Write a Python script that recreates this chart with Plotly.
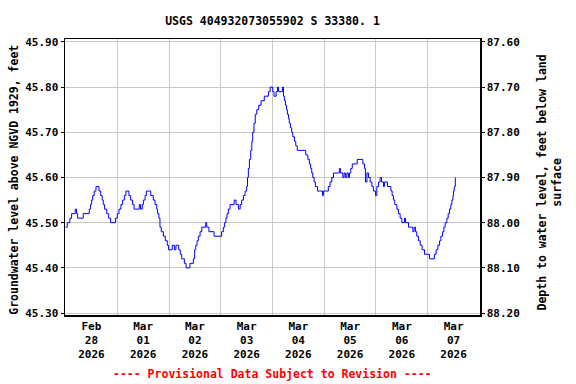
import pandas as pd
import plotly.graph_objects as go

# ---- data (hours after 2026-02-28 00:00, water level ft above NGVD 1929) ----
start = "2026-02-28 00:00"
hours = [0, 0.8, 2.0, 2.8, 4.5, 5.1, 5.6, 8.2, 11.0, 11.6, 12.1, 12.6, 13.3, 14.1, 15.5,
         16.3, 17.0, 17.5, 18.1, 19.1, 20.0, 20.9, 23.2, 24.0, 24.8, 25.7, 26.5, 27.3,
         28.0, 29.4, 30.2, 31.1, 31.8, 34.2, 34.8, 35.6, 36.1, 36.9, 37.5, 39.5, 40.7,
         41.5, 42.3, 42.7, 43.3, 43.8, 44.4, 45.4, 46.3, 47.2, 47.8, 49.5, 50.5, 51.2,
         52.5, 53.2, 53.9, 55.1, 55.9, 57.7, 59.3, 59.9, 60.4, 61.0, 61.6, 62.4, 63.2,
         65.0, 65.5, 66.5, 68.9, 72.4, 73.2, 73.8, 74.4, 74.9, 75.5, 76.3, 78.2, 79.1,
         80.2, 81.0, 81.7, 82.5, 83.3, 84.0, 84.4, 84.8, 85.3, 85.9, 86.4, 86.8, 87.4,
         88.0, 88.7, 89.6, 90.7, 92.2, 94.1, 94.9, 96.1, 96.7, 97.7, 98.3, 98.8, 100.6,
         101.1, 101.5, 102.0, 102.5, 102.9, 103.4, 103.8, 104.3, 104.9, 105.4, 106.2,
         106.8, 107.5, 111.4, 112.4, 113.1, 113.7, 114.2, 114.7, 115.3, 115.9, 116.9,
         119.2, 119.6, 121.9, 122.7, 123.5, 124.3, 127.0, 127.5, 128.6, 129.2, 129.8,
         130.5, 131.2, 131.7, 132.3, 133.0, 135.3, 137.9, 138.7, 139.1, 139.8, 140.5,
         141.3, 142.1, 142.8, 143.8, 144.4, 145.2, 145.9, 146.6, 147.5, 147.9, 149.3,
         150.9, 151.5, 152.1, 152.7, 153.7, 154.4, 155.2, 156.0, 157.2, 157.7, 159.1,
         161.1, 161.7, 162.3, 162.9, 163.7, 164.5, 165.4, 166.5, 168.8, 171.1, 171.9,
         172.7, 173.5, 174.1, 174.9, 175.5, 176.1, 176.9, 177.5, 178.1, 178.7, 179.2,
         179.7, 180.0, 180.3, 180.8]
level = [45.49, 45.50, 45.51, 45.52, 45.53, 45.52, 45.51, 45.52, 45.53, 45.54, 45.55, 45.56,
         45.57, 45.58, 45.57, 45.56, 45.55, 45.54, 45.53, 45.52, 45.51, 45.50, 45.51,
         45.52, 45.53, 45.54, 45.55, 45.56, 45.57, 45.56, 45.55, 45.54, 45.53, 45.54,
         45.53, 45.54, 45.55, 45.56, 45.57, 45.56, 45.55, 45.54, 45.53, 45.52, 45.51,
         45.49, 45.48, 45.47, 45.46, 45.45, 45.44, 45.45, 45.44, 45.45, 45.44, 45.43,
         45.42, 45.41, 45.40, 45.41, 45.42, 45.44, 45.45, 45.46, 45.47, 45.48, 45.49,
         45.50, 45.49, 45.48, 45.47, 45.48, 45.49, 45.50, 45.51, 45.52, 45.53, 45.54,
         45.55, 45.54, 45.53, 45.54, 45.55, 45.56, 45.57, 45.58, 45.60, 45.62, 45.64,
         45.66, 45.68, 45.70, 45.72, 45.74, 45.75, 45.76, 45.77, 45.78, 45.79, 45.80,
         45.79, 45.78, 45.79, 45.80, 45.79, 45.80, 45.78, 45.77, 45.76, 45.75, 45.74,
         45.73, 45.72, 45.71, 45.70, 45.69, 45.68, 45.67, 45.66, 45.65, 45.64, 45.63,
         45.62, 45.61, 45.60, 45.59, 45.58, 45.57, 45.56, 45.57, 45.58, 45.59, 45.60,
         45.61, 45.62, 45.61, 45.60, 45.61, 45.60, 45.61, 45.60, 45.61, 45.62, 45.63,
         45.64, 45.63, 45.62, 45.59, 45.61, 45.60, 45.59, 45.58, 45.57, 45.56, 45.58,
         45.59, 45.60, 45.59, 45.58, 45.59, 45.58, 45.57, 45.56, 45.55, 45.54, 45.53,
         45.52, 45.51, 45.50, 45.51, 45.50, 45.49, 45.48, 45.49, 45.48, 45.47, 45.46,
         45.45, 45.44, 45.43, 45.42, 45.43, 45.44, 45.45, 45.46, 45.47, 45.48, 45.49,
         45.50, 45.51, 45.52, 45.53, 45.54, 45.55, 45.56, 45.57, 45.58, 45.60]
land_surface = 133.50  # depth = land_surface - level

day_labels = ["Feb<br>28<br>2026", "Mar<br>01<br>2026", "Mar<br>02<br>2026", "Mar<br>03<br>2026",
              "Mar<br>04<br>2026", "Mar<br>05<br>2026", "Mar<br>06<br>2026", "Mar<br>07<br>2026"]
left_ticks = [45.30, 45.40, 45.50, 45.60, 45.70, 45.80, 45.90]
right_ticks = [87.60, 87.70, 87.80, 87.90, 88.00, 88.10, 88.20]

t0 = pd.Timestamp(start)
times = [t0 + pd.Timedelta(hours=h) for h in hours]
depth = [round(land_surface - v, 2) for v in level]
label_pos = [t0 + pd.Timedelta(hours=12 + 24 * i) for i in range(len(day_labels))]
midnights = [t0 + pd.Timedelta(days=i) for i in range(1, len(day_labels))]

FONT = "DejaVu Sans Mono"
GRID = "#C8C8C8"

y_lo, y_hi = 45.2956, 45.9066

fig = go.Figure()
fig.add_trace(go.Scatter(x=times, y=level, mode="lines", line=dict(color="#0000FF", width=1, shape="hv"),
                         showlegend=False, hoverinfo="skip"))
fig.add_trace(go.Scatter(x=times, y=depth, mode="lines", yaxis="y2", line=dict(color="rgba(0,0,0,0)", width=0),
                         showlegend=False, hoverinfo="skip"))

fig.update_layout(
    width=576, height=384,
    margin=dict(l=65, r=96, t=39, b=69),
    paper_bgcolor="white", plot_bgcolor="white",
    font=dict(family=FONT, size=11, color="black", weight="bold"),
    title=dict(text="USGS 404932073055902 S 33380. 1", x=0.5, xref="paper", xanchor="center",
               y=1 - 21 / 384, yref="container", yanchor="middle",
               font=dict(family=FONT, size=11.5, color="black", weight="bold")),
    xaxis=dict(range=[t0 - pd.Timedelta(minutes=15), t0 + pd.Timedelta(days=8, minutes=15)],
               tickmode="array", tickvals=label_pos, ticktext=day_labels,
               showgrid=False, ticks="", showline=True, linecolor="black", linewidth=1.5, mirror=True,
               minor=dict(tickmode="array", tickvals=midnights, showgrid=True, gridcolor=GRID, gridwidth=1, ticks=""),
               zeroline=False, tickfont=dict(size=11)),
    yaxis=dict(range=[y_lo, y_hi], tickmode="array", tickvals=left_ticks,
               ticktext=[f"{v:.2f}" for v in left_ticks],
               showgrid=True, gridcolor=GRID, gridwidth=1, ticks="outside", ticklen=3, tickcolor="black",
               showline=True, linecolor="black", linewidth=1.5, zeroline=False, tickfont=dict(size=11)),
    yaxis2=dict(range=[land_surface - y_lo, land_surface - y_hi], overlaying="y", side="right",
                tickmode="array", tickvals=right_ticks, ticktext=[f"{v:.2f}" for v in right_ticks],
                showgrid=False, ticks="outside", ticklen=3, tickcolor="black",
                showline=True, linecolor="black", linewidth=1.5, zeroline=False, tickfont=dict(size=11)),
    annotations=[
        dict(text="Groundwater level above NGVD 1929, feet", xref="paper", yref="paper",
             x=(14 - 65) / 415, y=0.49, xanchor="center", yanchor="middle", textangle=-90,
             showarrow=False, font=dict(family=FONT, size=11.5, color="black", weight="bold")),
        dict(text="Depth to water level, feet below land<br>surface", xref="paper", yref="paper",
             x=(550 - 65) / 415, y=0.48, xanchor="center", yanchor="middle", textangle=-90,
             showarrow=False, font=dict(family=FONT, size=11.5, color="black", weight="bold")),
        dict(text="---- Provisional Data Subject to Revision ----", xref="paper", yref="paper",
             x=0.5, y=(315.5 - 375) / 276.5, xanchor="center", yanchor="middle",
             showarrow=False, font=dict(family=FONT, size=11.5, color="red", weight="bold")),
    ],
)

fig.write_html("out.html", config={"displayModeBar": False, "staticPlot": True},
               post_script="document.body.style.margin='0px';document.body.style.overflow='hidden';")
